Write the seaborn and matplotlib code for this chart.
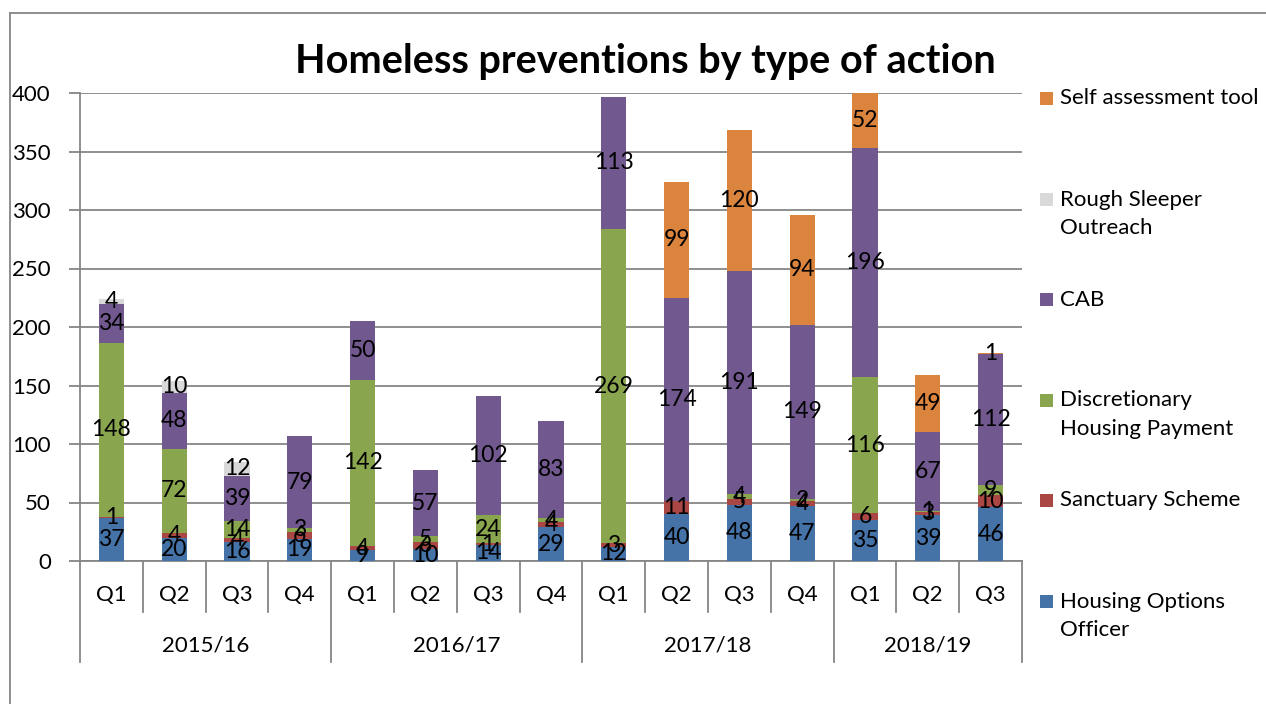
import numpy as np
import pandas as pd
import matplotlib
matplotlib.use("Agg")
import matplotlib.pyplot as plt
import seaborn as sns
from matplotlib.patches import Rectangle
from matplotlib.lines import Line2D

# ---------------- data ----------------
years = ["2015/16", "2016/17", "2017/18", "2018/19"]
quarters_per_year = [["Q1", "Q2", "Q3", "Q4"], ["Q1", "Q2", "Q3", "Q4"],
                     ["Q1", "Q2", "Q3", "Q4"], ["Q1", "Q2", "Q3"]]

housing_options_officer = [37, 20, 16, 19, 9, 10, 14, 29, 12, 40, 48, 47, 35, 39, 46]
sanctuary_scheme        = [1, 4, 4, 6, 4, 6, 1, 4, 3, 11, 5, 4, 6, 3, 10]
discretionary_housing   = [148, 72, 14, 3, 142, 5, 24, 4, 269, 0, 4, 2, 116, 1, 9]
cab                     = [34, 48, 39, 79, 50, 57, 102, 83, 113, 174, 191, 149, 196, 67, 112]
rough_sleeper_outreach  = [4, 10, 12, 0, 0, 0, 0, 0, 0, 0, 0, 0, 0, 0, 0]
self_assessment_tool    = [0, 0, 0, 0, 0, 0, 0, 0, 0, 99, 120, 94, 52, 49, 1]

series_names = ["Self assessment tool", "Rough Sleeper\nOutreach", "CAB",
                "Discretionary\nHousing Payment", "Sanctuary Scheme",
                "Housing Options\nOfficer"]
series_values = [self_assessment_tool, rough_sleeper_outreach, cab,
                 discretionary_housing, sanctuary_scheme, housing_options_officer]
colors = ["#DB843D", "#D9D9D9", "#71588F", "#89A54E", "#AA4643", "#4572A7"]

# ---------------- build table ----------------
periods = []
for y, qs in zip(years, quarters_per_year):
    for q in qs:
        periods.append(f"{y} {q}")

rows = []
for name, vals in zip(series_names, series_values):
    for p, v in zip(periods, vals):
        rows.append({"period": p, "series": name, "value": v})
df = pd.DataFrame(rows)
df["period"] = pd.Categorical(df["period"], categories=periods, ordered=True)

W, H = 1266, 704
def fx(px):
    return px / W
def fy(py):
    return 1 - py / H

font = "Lato"
plt.rcParams["font.family"] = [font, "DejaVu Sans"]

fig = plt.figure(figsize=(W / 100, H / 100), dpi=100)
ax = fig.add_axes([fx(80), fy(561), fx(1022) - fx(80), fy(93) - fy(561)])

palette = dict(zip(series_names, colors))
sns.histplot(data=df, x="period", weights="value", hue="series",
             hue_order=series_names, multiple="stack", discrete=True,
             shrink=0.4, palette=palette, alpha=1, linewidth=0,
             edgecolor="none", legend=False, ax=ax, zorder=3)

# ----- data labels -----
for cont in ax.containers:
    vals = [p.get_height() for p in cont.patches]
    labels = [f"{int(round(v))}" if v > 0.5 else "" for v in vals]
    ax.bar_label(cont, labels=labels, label_type="center", fontsize=16.5,
                 color="black", zorder=5)

# ----- axes styling -----
grid_col = "#868686"
ax.set_ylim(0, 400)
ax.set_xlim(-0.5, len(periods) - 0.5)
ax.set_yticks(np.arange(0, 401, 50))
ax.yaxis.grid(True, color=grid_col, linewidth=1.3, zorder=0)
ax.set_axisbelow(True)
ax.tick_params(axis="y", length=8, width=1.3, color=grid_col, pad=13,
               labelsize=16)
ax.set_xticks([])
ax.set_xlabel("")
ax.set_ylabel("")
for s in ["top", "right"]:
    ax.spines[s].set_visible(False)
for s in ["left", "bottom"]:
    ax.spines[s].set_color(grid_col)
    ax.spines[s].set_linewidth(1.3)

# multi-level category axis
trans = ax.get_xaxis_transform()
q_label_y = (561 - 595) / 468
y_label_y = (561 - 646) / 468
q_line_y = (561 - 612) / 468
y_line_y = (561 - 662) / 468
idx = 0
for y, qs in zip(years, quarters_per_year):
    start = idx
    for q in qs:
        ax.text(idx, q_label_y, q, transform=trans, ha="center", va="center",
                fontsize=16)
        idx += 1
    ax.text((start + idx - 1) / 2, y_label_y, y, transform=trans,
            ha="center", va="center", fontsize=16)
year_bounds = set()
idx = 0
year_bounds.add(-0.5)
for qs in quarters_per_year:
    idx += len(qs)
    year_bounds.add(idx - 0.5)
for b in np.arange(-0.5, len(periods), 1.0):
    bottom = y_line_y if b in year_bounds else q_line_y
    ax.add_line(Line2D([b, b], [0, bottom], transform=trans, color=grid_col,
                       linewidth=1.3, clip_on=False))

# ----- title -----
fig.text(fx(645), fy(73), "Homeless preventions by type of action",
         ha="center", va="baseline", fontsize=28.5, fontweight="bold")

# ----- legend (manual) -----
legend_centers = [98, 199.5, 299.5, 400, 500.5, 601.5]
for name, col, cy in zip(series_names, colors, legend_centers):
    fig.add_artist(Rectangle((fx(1040), fy(cy + 6.5)), fx(13), 13 / H,
                             facecolor=col, edgecolor="none",
                             transform=fig.transFigure))
    for k, line in enumerate(name.split("\n")):
        fig.text(fx(1060), fy(cy + 6 + 29 * k), line, ha="left",
                 va="baseline", fontsize=16)

# ----- chart border -----
fig.add_artist(Line2D([fx(10), fx(10)], [0, fy(13)], color=grid_col,
                      linewidth=1.3, transform=fig.transFigure))
fig.add_artist(Line2D([fx(10), 1], [fy(13), fy(13)], color=grid_col,
                      linewidth=1.3, transform=fig.transFigure))

fig.savefig("out.png", dpi=100, facecolor="white")
